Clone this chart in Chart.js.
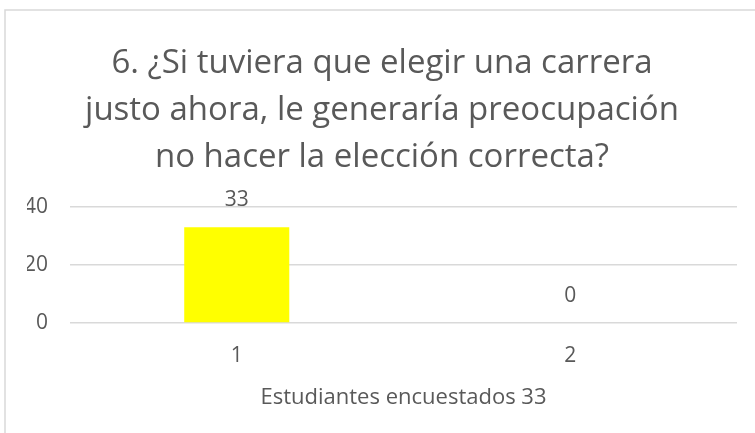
<!DOCTYPE html>
<html lang="es">
<head>
    <meta charset="UTF-8">
    <script src="https://cdn.jsdelivr.net/npm/chart.js"></script>
    <title>Pregunta 6</title>
    <style>
        html, body { margin: 0; padding: 0; background: #fff; }
        #wrap { width: 755px; height: 433px; }
    </style>
</head>
<body>
    <div id="wrap">
        <canvas id="myChart" width="755" height="433"></canvas>
    </div>
    <script>
        const categories = ["1", "2"]
        const respuestas = [33, 0]
        const yTicks = [0, 20, 40]
        const titleLines = [
            "6. ¿Si tuviera que elegir una carrera",
            "justo ahora, le generaría preocupación",
            "no hacer la elección correcta?"
        ]
        const xTitle = "Estudiantes encuestados 33"

        const textColor = "#595959"
        const fontName = "'Open Sans', sans-serif"

        // borde del gráfico (solo se ve arriba y a la izquierda)
        const frame = {
            id: 'frame',
            beforeDraw(chart) {
                const ctx = chart.ctx
                ctx.save()
                ctx.strokeStyle = "#d9d9d9"
                ctx.lineWidth = 1.5
                ctx.beginPath()
                ctx.moveTo(5, chart.height + 2)
                ctx.lineTo(5, 10)
                ctx.lineTo(chart.width + 2, 10)
                ctx.stroke()
                ctx.restore()
            }
        }

        // etiquetas de valor encima de cada barra
        const valueLabels = {
            id: 'valueLabels',
            afterDatasetsDraw(chart) {
                const ctx = chart.ctx
                const meta = chart.getDatasetMeta(0)
                ctx.save()
                ctx.fillStyle = textColor
                ctx.font = "21px " + fontName
                ctx.textAlign = "center"
                ctx.textBaseline = "middle"
                meta.data.forEach((bar, i) => {
                    ctx.fillText(String(respuestas[i]), bar.x, bar.y - 27)
                })
                ctx.restore()
            }
        }

        new Chart(document.getElementById('myChart'), {
            type: 'bar',
            data: {
                labels: categories,
                datasets: [{
                    label: 'Respuestas',
                    data: respuestas,
                    backgroundColor: '#ffff00',
                    borderWidth: 0,
                    barPercentage: 0.315,
                    categoryPercentage: 1
                }]
            },
            options: {
                responsive: false,
                animation: false,
                layout: { padding: { left: 27, right: 18, top: 0, bottom: 20 } },
                plugins: {
                    legend: { display: false },
                    tooltip: { enabled: false },
                    title: {
                        display: true,
                        text: titleLines,
                        color: textColor,
                        font: { family: fontName, size: 33, weight: 'normal', lineHeight: '47px' },
                        padding: { top: 40, bottom: 26 }
                    }
                },
                scales: {
                    y: {
                        min: 0,
                        max: 40,
                        afterFit: s => { s.width = 43 },
                        afterBuildTicks: s => { s.ticks = yTicks.map(v => ({ value: v })) },
                        ticks: {
                            color: textColor,
                            padding: 22,
                            font: { family: fontName, size: 21 }
                        },
                        grid: { color: '#d9d9d9', lineWidth: 1.5, drawTicks: false },
                        border: { display: false }
                    },
                    x: {
                        afterFit: s => { s.height = 90 },
                        ticks: {
                            color: textColor,
                            padding: 20,
                            font: { family: fontName, size: 21 }
                        },
                        grid: { display: false, drawTicks: false },
                        border: { display: false },
                        title: {
                            display: true,
                            text: xTitle,
                            color: textColor,
                            font: { family: fontName, size: 22 },
                            padding: { top: 4, bottom: 2 }
                        }
                    }
                }
            },
            plugins: [frame, valueLabels]
        })
    </script>
</body>
</html>
